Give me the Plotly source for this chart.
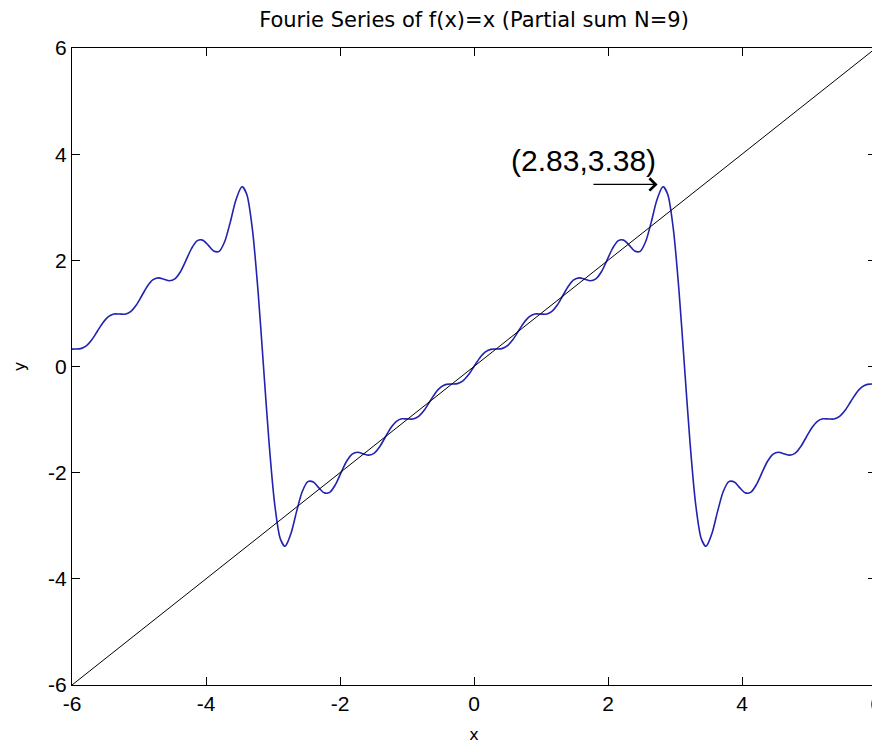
import plotly.graph_objects as go

# Partial sum S_9(x) of the Fourier series of f(x)=x, values read/estimated from the figure
curve_x = [
    -6.0, -5.95250, -5.86982, -5.78715, -5.70448, -5.62180, -5.53913, -5.45646, -5.37378, -5.29111,
    -5.20843, -5.12576, -5.04309, -4.96041, -4.87774, -4.79507, -4.71239, -4.62972, -4.54705, -4.46437,
    -4.38170, -4.29903, -4.21635, -4.13368, -4.05101, -3.96833, -3.88566, -3.80298, -3.72031, -3.63764,
    -3.55497, -3.47229, -3.45569, -3.38962, -3.30694, -3.22427, -3.14159,
    -3.05892, -2.97625, -2.89357, -2.8275, -2.81090, -2.72822, -2.64555, -2.56288, -2.48021, -2.39753,
    -2.31486, -2.23218, -2.14951, -2.06684, -1.98416, -1.90149, -1.81882, -1.73614, -1.65347, -1.57080,
    -1.48812, -1.40545, -1.32278, -1.24010, -1.15743, -1.07476, -0.99208, -0.90941, -0.82673, -0.74406,
    -0.66139, -0.57871, -0.49604, -0.41337, -0.33069, -0.24802, -0.16535, -0.08267, 0.0,
    0.08267, 0.16535, 0.24802, 0.33069, 0.41337, 0.49604, 0.57871, 0.66139, 0.74406, 0.82673,
    0.90941, 0.99208, 1.07476, 1.15743, 1.24010, 1.32278, 1.40545, 1.48812, 1.57080, 1.65347,
    1.73614, 1.81882, 1.90149, 1.98416, 2.06684, 2.14951, 2.23218, 2.31486, 2.39753, 2.48021,
    2.56288, 2.64555, 2.72822, 2.81090, 2.8275, 2.89357, 2.97625, 3.05892, 3.14159,
    3.22427, 3.30694, 3.38962, 3.45569, 3.47229, 3.55497, 3.63764, 3.72031, 3.80298, 3.88566,
    3.96833, 4.05101, 4.13368, 4.21635, 4.29903, 4.38170, 4.46437, 4.54705, 4.62972, 4.71239,
    4.79507, 4.87774, 4.96041, 5.04309, 5.12576, 5.20843, 5.29111, 5.37378, 5.45646, 5.53913,
    5.62180, 5.70448, 5.78715, 5.86982, 5.95250, 6.0,
]
curve_y = [
    0.328, 0.32975, 0.33671, 0.38779, 0.50252, 0.66340, 0.82531, 0.94123, 0.98979, 0.98867,
    0.98581, 1.03234, 1.15259, 1.32824, 1.50667, 1.63011, 1.66965, 1.64488, 1.61501, 1.64948,
    1.78416, 1.99883, 2.22162, 2.36636, 2.38079, 2.28589, 2.17443, 2.16905, 2.35501, 2.71977,
    3.13193, 3.37608, 3.384, 3.23367, 2.57708, 1.43542, 0.0,
    -1.43542, -2.57708, -3.23367, -3.384, -3.37608, -3.13193, -2.71977, -2.35501, -2.16905, -2.17443,
    -2.28589, -2.38079, -2.36636, -2.22162, -1.99883, -1.78416, -1.64948, -1.61501, -1.64488, -1.66965,
    -1.63011, -1.50667, -1.32824, -1.15259, -1.03234, -0.98581, -0.98867, -0.98979, -0.94123, -0.82531,
    -0.66340, -0.50252, -0.38779, -0.33671, -0.32975, -0.32232, -0.27068, -0.15712, 0.0,
    0.15712, 0.27068, 0.32232, 0.32975, 0.33671, 0.38779, 0.50252, 0.66340, 0.82531, 0.94123,
    0.98979, 0.98867, 0.98581, 1.03234, 1.15259, 1.32824, 1.50667, 1.63011, 1.66965, 1.64488,
    1.61501, 1.64948, 1.78416, 1.99883, 2.22162, 2.36636, 2.38079, 2.28589, 2.17443, 2.16905,
    2.35501, 2.71977, 3.13193, 3.37608, 3.384, 3.23367, 2.57708, 1.43542, 0.0,
    -1.43542, -2.57708, -3.23367, -3.384, -3.37608, -3.13193, -2.71977, -2.35501, -2.16905, -2.17443,
    -2.28589, -2.38079, -2.36636, -2.22162, -1.99883, -1.78416, -1.64948, -1.61501, -1.64488, -1.66965,
    -1.63011, -1.50667, -1.32824, -1.15259, -1.03234, -0.98581, -0.98867, -0.98979, -0.94123, -0.82531,
    -0.66340, -0.50252, -0.38779, -0.33671, -0.32975, -0.328,
]

# f(x) = x reference line
line_x = [-6, 6]
line_y = [-6, 6]

# axis ticks
tick_vals = [-6, -4, -2, 0, 2, 4, 6]
tick_text = ["-6", "-4", "-2", "0", "2", "4", "6"]

# annotation
peak_label = "(2.83,3.38)"
label_pos = (1.63, 3.88)
arrow_tail = (1.76, 3.43)
arrow_head = (2.74, 3.43)

title_text = "Fourie Series of f(x)=x (Partial sum N=9)"

FIG_W, FIG_H = 872, 739  # page body adds an 8px offset

fig = go.Figure()
fig.add_trace(go.Scatter(x=curve_x, y=curve_y, mode="lines",
                         line=dict(color="#2222b0", width=1.6, shape="spline", smoothing=0.8),
                         showlegend=False, hoverinfo="skip"))
fig.add_trace(go.Scatter(x=line_x, y=line_y, mode="lines",
                         line=dict(color="black", width=1), showlegend=False, hoverinfo="skip"))

fig.add_annotation(x=label_pos[0], y=label_pos[1], xref="x", yref="y", text=peak_label,
                   showarrow=False, font=dict(family="Liberation Sans, Arial, sans-serif", size=30, color="black"))
fig.add_annotation(x=arrow_head[0], y=arrow_head[1], ax=arrow_tail[0], ay=arrow_tail[1],
                   xref="x", yref="y", axref="x", ayref="y", text="", showarrow=True,
                   arrowhead=4, arrowsize=2.0, arrowwidth=1.2, arrowcolor="black")

tick_font = dict(family="Liberation Sans, Arial, sans-serif", size=21, color="black")
label_font = dict(family="DejaVu Sans, sans-serif", size=16, color="black")
axis_common = dict(range=[-6, 6], tickmode="array", tickvals=tick_vals, ticktext=tick_text,
                   showline=True, linecolor="black", linewidth=1, mirror="ticks",
                   ticks="inside", ticklen=8, tickcolor="black", tickwidth=1,
                   showgrid=False, zeroline=False, tickfont=tick_font,
                   ticklabeloverflow="allow")

fig.update_layout(
    width=FIG_W, height=FIG_H,
    margin=dict(l=64, r=4, t=40, b=62, autoexpand=False),
    paper_bgcolor="white", plot_bgcolor="white",
    title=dict(text=title_text, x=0.5, xref="paper", xanchor="center",
               y=1 - 12 / FIG_H, yref="container", yanchor="middle",
               font=dict(family="DejaVu Sans, sans-serif", size=21, color="black")),
    xaxis=dict(**axis_common, title=dict(text="x", standoff=14, font=label_font)),
    yaxis=dict(**axis_common, title=dict(text="y", standoff=18, font=label_font)),
)

fig.write_html("out.html")
